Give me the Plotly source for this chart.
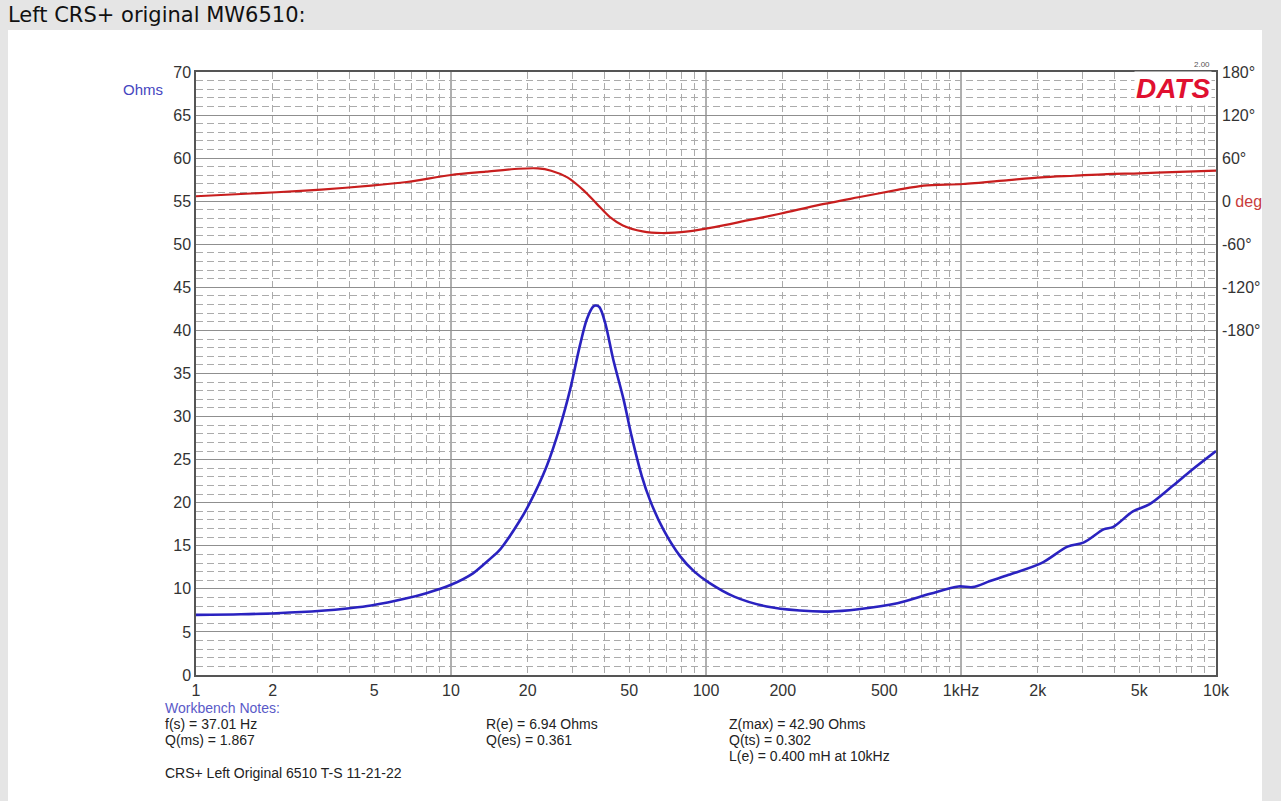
import plotly.graph_objects as go

# ---------------- data ----------------
imp_freq = [1.0, 1.5, 2.07, 3.1, 4.0, 4.86, 6.7, 8.0, 10, 12.2, 13.4, 15.4, 16.0, 18.6,
            20.4, 23.7, 26.8, 29.3, 32.0, 34.1, 36.2, 37.0, 38.2, 40.2, 43.3, 47.5,
            51.1, 56.0, 60.3, 68.0, 79.1, 90, 103, 129, 173, 233, 303, 396, 563, 757,
            977, 1112, 1300, 1539, 2066, 2617, 3034, 3622, 3957, 4722, 5472, 6730,
            8035, 10000]
imp_ohms = [6.98, 7.05, 7.17, 7.45, 7.75, 8.06, 8.9, 9.5, 10.47, 11.8, 12.8, 14.4, 15.0, 17.9,
            20.0, 24.2, 28.9, 33.1, 38.2, 41.3, 42.8, 42.9, 42.7, 40.9, 36.6, 32.0,
            27.7, 23.1, 20.3, 16.9, 13.8, 12.0, 10.7, 9.1, 7.95, 7.48, 7.36, 7.63, 8.33, 9.42,
            10.28, 10.2, 10.9, 11.63, 12.98, 14.9, 15.4, 16.9, 17.2, 19.0, 19.8, 21.9,
            23.8, 26.0]

phase_freq = [1.0, 2.07, 3.1, 4.86, 6.7, 10, 13.7, 18.4, 21.9, 24.7, 28.6, 33.2, 37.3,
              42.0, 47.2, 56.4, 67.3, 85.2, 108, 145, 195, 278, 396, 563, 714, 1018,
              1539, 2066, 2778, 3733, 5012, 6730, 10000]
phase_deg = [6.9, 12.5, 16.2, 21.7, 26.8, 36.5, 41.1, 45.2, 45.7, 42.5, 33.2, 14.8, -3.7,
             -22.2, -33.7, -42.0, -44.3, -42.0, -36.0, -26.8, -17.5, -5.1, 5.5, 15.7, 21.7, 24.0,
             29.5, 33.2, 35.5, 37.8, 38.8, 40.6, 42.5]

x_tickvals = [1, 2, 5, 10, 20, 50, 100, 200, 500, 1000, 2000, 5000, 10000]
x_ticktext = ["1", "2", "5", "10", "20", "50", "100", "200", "500", "1kHz", "2k", "5k", "10k"]
decades = [10, 100, 1000]
minor_x = [m * d for d in [1, 10, 100, 1000] for m in range(2, 10)]

ohm_ticks = list(range(0, 75, 5))
phase_ticks = [-180, -120, -60, 0, 60, 120, 180]
phase_text = ["-180°", "-120°", "-60°", "0 <span style='color:#c83c3c'>deg</span>",
              "60°", "120°", "180°"]

notes = [
    ("Workbench Notes:", 163, 708, "#5a5ac8"),
    ("f(s) = 37.01 Hz", 163, 724, "#222222"),
    ("Q(ms) = 1.867", 163, 740, "#222222"),
    ("R(e) = 6.94 Ohms", 484, 724, "#222222"),
    ("Q(es) = 0.361", 484, 740, "#222222"),
    ("Z(max) = 42.90 Ohms", 727, 724, "#222222"),
    ("Q(ts) = 0.302", 727, 740, "#222222"),
    ("L(e) = 0.400 mH at 10kHz", 727, 756, "#222222"),
    ("CRS+ Left Original 6510 T-S 11-21-22", 163, 773, "#222222"),
]

# ---------------- layout helpers ----------------
W, H = 1281, 801
PL, PR, PT, PB = 196, 1216, 72, 675


def px(x):
    return (x - PL) / (PR - PL)


def py(y):
    return (PB - y) / (PB - PT)


FONT = "Liberation Sans, Arial, sans-serif"

fig = go.Figure()
fig.add_trace(go.Scatter(x=phase_freq, y=phase_deg, mode="lines", yaxis="y2",
                         line=dict(color="#c81e1e", width=2.2, shape="spline", smoothing=0.8),
                         showlegend=False, hoverinfo="skip"))
fig.add_trace(go.Scatter(x=imp_freq, y=imp_ohms, mode="lines",
                         line=dict(color="#2a22c0", width=2.6, shape="spline", smoothing=0.9),
                         showlegend=False, hoverinfo="skip"))

shapes = [dict(type="rect", xref="paper", yref="paper", x0=px(8), x1=px(1262),
               y0=py(801), y1=py(30), fillcolor="white", line=dict(width=0), layer="below")]
for d in decades:
    shapes.append(dict(type="line", xref="x", yref="paper", x0=d, x1=d, y0=0, y1=1,
                       line=dict(color="#606060", width=1), layer="between"))

annotations = [
    dict(text="Left CRS+ original MW6510:", xref="paper", yref="paper", x=px(6), y=py(15),
         xanchor="left", yanchor="middle", showarrow=False,
         font=dict(family="DejaVu Sans, sans-serif", size=21, color="#111111")),
    dict(text="Ohms", xref="paper", yref="paper", x=px(143), y=py(90),
         xanchor="center", yanchor="middle", showarrow=False,
         font=dict(family=FONT, size=15, color="#4646c0")),
    dict(text="<b><i>DATS</i></b>", xref="paper", yref="paper", x=px(1212), y=py(88),
         xanchor="right", yanchor="middle", showarrow=False, bgcolor="white",
         font=dict(family=FONT, size=28, color="#e01030")),
    dict(text="2.00", xref="paper", yref="paper", x=px(1212), y=py(64),
         xanchor="right", yanchor="middle", showarrow=False,
         font=dict(family=FONT, size=8, color="#555555")),
]
for txt, x, y, col in notes:
    annotations.append(dict(text=txt, xref="paper", yref="paper", x=px(x), y=py(y),
                            xanchor="left", yanchor="middle", showarrow=False,
                            font=dict(family=FONT, size=14, color=col)))

fig.update_layout(
    width=W, height=H, autosize=False,
    margin=dict(l=PL, r=W - PR, t=PT, b=H - PB, pad=0),
    paper_bgcolor="#e5e5e5", plot_bgcolor="white",
    font=dict(family=FONT, size=16, color="#333333"),
    xaxis=dict(type="log", range=[0, 4], tickmode="array", tickvals=x_tickvals,
               ticktext=x_ticktext, showgrid=False, ticks="", zeroline=False,
               showline=True, mirror=True, linecolor="#555555", linewidth=1.5,
               tickfont=dict(size=16, color="#333333"),
               minor=dict(tickmode="array", tickvals=minor_x, showgrid=True,
                          gridcolor="#ababab", gridwidth=1, griddash="7px,4px", ticks="")),
    yaxis=dict(range=[0, 70], tickmode="array", tickvals=ohm_ticks, showgrid=True,
               gridcolor="#8f8f8f", gridwidth=1, ticks="", zeroline=False,
               showline=True, mirror=True, linecolor="#555555", linewidth=1.5,
               tickfont=dict(size=16, color="#333333"),
               minor=dict(dtick=1, showgrid=True, gridcolor="#ababab", gridwidth=1,
                          griddash="7px,4px", ticks="")),
    yaxis2=dict(overlaying="y", side="right", range=[-660, 180], tickmode="array",
                tickvals=phase_ticks, ticktext=phase_text, showgrid=False, zeroline=False,
                ticks="", showline=False, ticklabelstandoff=5,
                tickfont=dict(size=16, color="#333333")),
    shapes=shapes,
    annotations=annotations,
)

fig.write_html("out.html", config={"displayModeBar": False},
               post_script="document.body.style.margin='0';")
